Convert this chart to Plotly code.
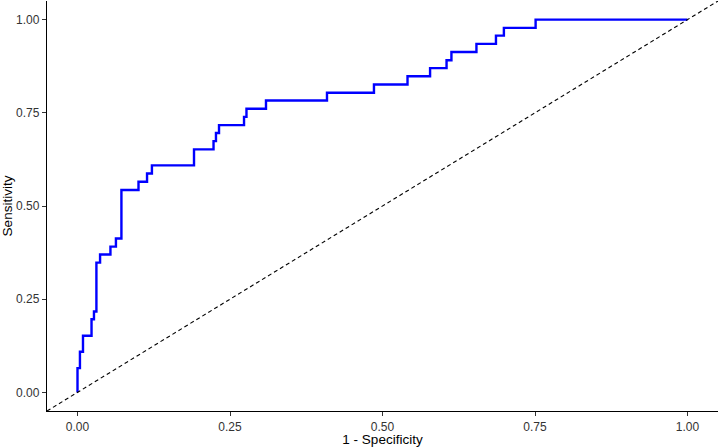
import plotly.graph_objects as go

# ROC step corners: false positive rate (1 - specificity) where sensitivity rises, and new sensitivity
fpr = [0.0, 0.0, 0.004, 0.009, 0.023, 0.027, 0.031, 0.037, 0.054, 0.063, 0.072,
       0.100, 0.114, 0.122, 0.191, 0.223, 0.227, 0.232, 0.273, 0.277, 0.309,
       0.409, 0.486, 0.541, 0.578, 0.605, 0.613, 0.654, 0.686, 0.699, 0.751, 1.0]
tpr = [0.0, 0.065, 0.109, 0.152, 0.196, 0.217, 0.348, 0.370, 0.391, 0.413, 0.543,
       0.565, 0.587, 0.609, 0.652, 0.674, 0.696, 0.717, 0.739, 0.761, 0.783,
       0.804, 0.826, 0.848, 0.870, 0.891, 0.913, 0.935, 0.957, 0.978, 1.0, 1.0]

tick_vals = [0.0, 0.25, 0.5, 0.75, 1.0]
tick_text = ["0.00", "0.25", "0.50", "0.75", "1.00"]
axis_range = [-0.05, 1.05]

fig = go.Figure()
fig.add_trace(go.Scatter(x=fpr, y=tpr, mode="lines", line=dict(color="#0000FF", width=2.4, shape="hv"),
                         showlegend=False, hoverinfo="skip"))
fig.add_shape(type="line", xref="x", yref="y", x0=axis_range[0], y0=axis_range[0],
              x1=axis_range[1], y1=axis_range[1], line=dict(color="black", width=1.1, dash="4px,3px"))

axis_common = dict(range=axis_range, tickvals=tick_vals, ticktext=tick_text, showgrid=False,
                   zeroline=False, showline=True, linecolor="black", linewidth=1.3,
                   ticks="outside", ticklen=4, tickcolor="#333333", tickwidth=1.1,
                   tickfont=dict(family="Liberation Sans, Arial", size=12, color="#333333"))

fig.update_layout(
    width=720, height=447,
    margin=dict(l=47, r=2, t=1, b=36),
    plot_bgcolor="white", paper_bgcolor="white",
    xaxis=dict(**axis_common, title=dict(text="1 - Specificity", standoff=3,
               font=dict(family="Liberation Sans, Arial", size=13.5, color="black"))),
    yaxis=dict(**axis_common, title=dict(text="Sensitivity", standoff=6,
               font=dict(family="Liberation Sans, Arial", size=13.5, color="black"))),
)

fig.write_html("out.html")
